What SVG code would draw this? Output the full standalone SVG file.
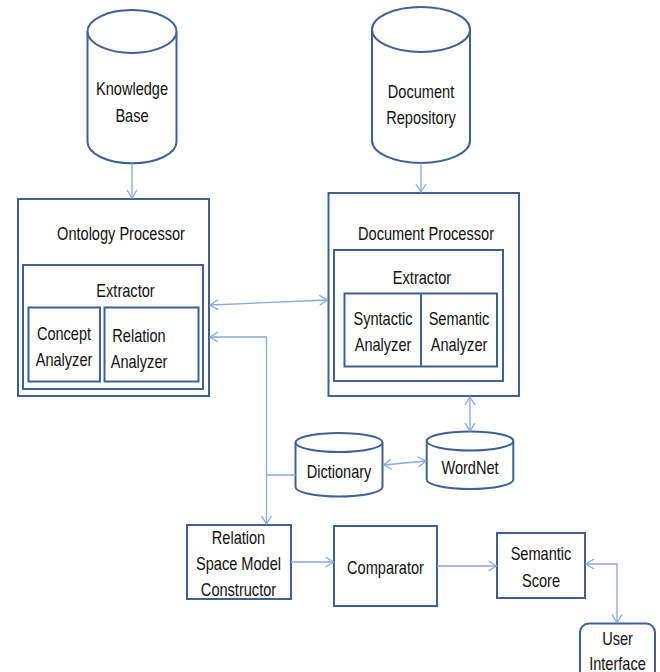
<svg xmlns="http://www.w3.org/2000/svg" width="660" height="672" viewBox="0 0 660 672">
<defs>
<style>
.b{fill:#fff;stroke:#3D6197;stroke-width:2}
.c{fill:none;stroke:#86AADA;stroke-width:1.3}
.t{font-family:"Liberation Sans",Arial,sans-serif;font-size:18px;fill:#111;text-anchor:middle}
</style>
<marker id="ah" viewBox="0 0 10 12" refX="9" refY="6" markerWidth="10" markerHeight="12" markerUnits="userSpaceOnUse" orient="auto-start-reverse">
<path d="M1,1 L9,6 L1,11" fill="none" stroke="#86AADA" stroke-width="1.3"/>
</marker>
</defs>
<rect width="660" height="672" fill="#fff"/>

<g id="knowledge-base">
<path class="b" d="M87.5,31.5 L87.5,141.8 A44.5,21.5 0 0 0 176.5,141.8 L176.5,31.5"/>
<ellipse class="b" cx="132" cy="31.5" rx="44.5" ry="21.5"/>
<text class="t" transform="translate(132,95) scale(0.81,1)">Knowledge</text>
<text class="t" transform="translate(132,121.5) scale(0.81,1)">Base</text>
</g>

<g id="document-repository">
<path class="b" d="M372,29.5 L372,140.5 A49,22.5 0 0 0 470,140.5 L470,29.5"/>
<ellipse class="b" cx="421" cy="29.5" rx="49" ry="22.5"/>
<text class="t" transform="translate(421,97.5) scale(0.81,1)">Document</text>
<text class="t" transform="translate(421,123.5) scale(0.81,1)">Repository</text>
</g>

<g id="ontology-processor">
<rect class="b" x="18" y="199" width="191" height="197"/>
<text class="t" transform="translate(121,239.5) scale(0.81,1)">Ontology Processor</text>
<rect class="b" x="23" y="265" width="180" height="124"/>
<text class="t" transform="translate(125.5,296.5) scale(0.81,1)">Extractor</text>
<rect class="b" x="28.5" y="307.5" width="71.5" height="74"/>
<text class="t" transform="translate(64,339.5) scale(0.81,1)">Concept</text>
<text class="t" transform="translate(64,365.5) scale(0.81,1)">Analyzer</text>
<rect class="b" x="104.5" y="307.5" width="94" height="74"/>
<text class="t" transform="translate(139,341.5) scale(0.81,1)">Relation</text>
<text class="t" transform="translate(139,368) scale(0.81,1)">Analyzer</text>
</g>

<g id="document-processor">
<rect class="b" x="328.5" y="193" width="190.5" height="203"/>
<text class="t" transform="translate(426,239.5) scale(0.81,1)">Document Processor</text>
<rect class="b" x="334" y="250" width="169" height="131"/>
<text class="t" transform="translate(422,283.5) scale(0.81,1)">Extractor</text>
<rect class="b" x="344.5" y="293.5" width="152.5" height="73"/>
<line class="b" x1="421" y1="293.5" x2="421" y2="366.5"/>
<text class="t" transform="translate(383,324.5) scale(0.81,1)">Syntactic</text>
<text class="t" transform="translate(383,350.5) scale(0.81,1)">Analyzer</text>
<text class="t" transform="translate(459,324.5) scale(0.81,1)">Semantic</text>
<text class="t" transform="translate(459,350.5) scale(0.81,1)">Analyzer</text>
</g>

<g id="dictionary">
<path class="b" d="M295.5,442.5 L295.5,487 A43.5,9.5 0 0 0 382.5,487 L382.5,442.5"/>
<ellipse class="b" cx="339" cy="442.5" rx="43.5" ry="9.5"/>
<text class="t" transform="translate(339,477.5) scale(0.81,1)">Dictionary</text>
</g>

<g id="wordnet">
<path class="b" d="M426.7,441 L426.7,479.5 A43.3,9.5 0 0 0 513.3,479.5 L513.3,441"/>
<ellipse class="b" cx="470" cy="441" rx="43.3" ry="9.5"/>
<text class="t" transform="translate(470,473.5) scale(0.81,1)">WordNet</text>
</g>

<g id="rsm-constructor">
<rect class="b" x="187" y="525" width="104" height="74"/>
<text class="t" transform="translate(238.5,543.5) scale(0.81,1)">Relation</text>
<text class="t" transform="translate(238.5,570) scale(0.81,1)">Space Model</text>
<text class="t" transform="translate(238.5,596) scale(0.81,1)">Constructor</text>
</g>

<g id="comparator">
<rect class="b" x="334" y="526" width="103" height="80"/>
<text class="t" transform="translate(385.5,574) scale(0.81,1)">Comparator</text>
</g>

<g id="semantic-score">
<rect class="b" x="497" y="533" width="88" height="65"/>
<text class="t" transform="translate(541,560) scale(0.81,1)">Semantic</text>
<text class="t" transform="translate(541,586.5) scale(0.81,1)">Score</text>
</g>

<g id="user-interface">
<rect class="b" x="580" y="623.5" width="75" height="62" rx="9"/>
<text class="t" transform="translate(617.5,645) scale(0.81,1)">User</text>
<text class="t" transform="translate(617.5,669.5) scale(0.81,1)">Interface</text>
</g>

<g id="connectors">
<line class="c" x1="132" y1="163.5" x2="132" y2="198" marker-end="url(#ah)"/>
<line class="c" x1="421" y1="163" x2="421" y2="192" marker-end="url(#ah)"/>
<line class="c" x1="210" y1="305" x2="327.5" y2="300" marker-start="url(#ah)" marker-end="url(#ah)"/>
<polyline class="c" points="295.5,475 266.5,475 266.5,337 210,337" marker-end="url(#ah)"/>
<line class="c" x1="266.5" y1="475" x2="266.5" y2="524" marker-end="url(#ah)"/>
<line class="c" x1="470" y1="397" x2="470" y2="431" marker-start="url(#ah)" marker-end="url(#ah)"/>
<line class="c" x1="383.5" y1="465" x2="426" y2="461" marker-start="url(#ah)" marker-end="url(#ah)"/>
<line class="c" x1="291" y1="562" x2="333.5" y2="562" marker-end="url(#ah)"/>
<line class="c" x1="437" y1="566" x2="496.5" y2="566" marker-end="url(#ah)"/>
<polyline class="c" points="586,564 617,564 617,622.5" marker-start="url(#ah)" marker-end="url(#ah)"/>
</g>
</svg>
